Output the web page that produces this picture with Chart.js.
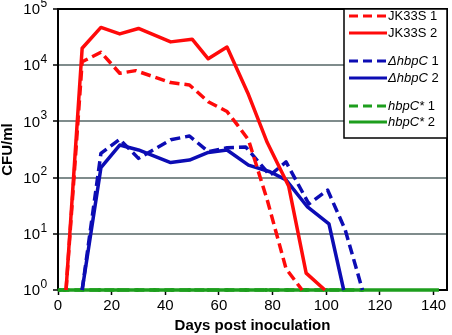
<!DOCTYPE html>
<html>
<head>
<meta charset="utf-8">
<script src="https://cdn.jsdelivr.net/npm/chart.js@4.4.1/dist/chart.umd.min.js"></script>
<style>html,body{margin:0;padding:0;background:#fff}</style>
</head>
<body>
<canvas id="c" width="452" height="335"></canvas>
<script>
// tick labels
const xTicks=[0,20,40,60,80,100,120,140];
const yTicks=[1,10,100,1000,10000,100000];

// series (days post inoculation, CFU/ml)
const jk1Days=[3,9,16,23,29,42,49,56,63,67,71,78,85,91];
const jk1=[1,11500,17000,7200,8000,4900,4450,2240,1500,850,470,40,2.4,1];
const jk2Days=[3,9,16,23,30,42,50,56,63,71,78,86,92.5,99.5];
const jk2=[1,20000,47000,36000,45000,26000,29000,13000,21000,3000,420,70,2,1];
const dh1Days=[9,16,23,30,42,49,56,63,70,79,85,93.5,100.5,107,113.5];
const dh1=[1,270,480,220,470,550,290,340,350,110,190,34,60,12,1];
const dh2Days=[9,16,23,30,42,49,56,63,71,79,85,93,101,106.5];
const dh2=[1,150,380,310,185,205,280,310,167,127,91,30,15,1];
const hb1Days=[0.5,2.5,9,15.5,22.5,29.5,36,42.5,49,56,63,70,77.5,85.5,92.5,100,106.5,113.5];
const hb1=[1,1,1,1,1,1,1,1,1,1,1,1,1,1,1,1,1,1];
const hb2Days=[0.5,142];
const hb2=[1,1];

const labels=['JK33S 1','JK33S 2','ΔhbpC 1','ΔhbpC 2','hbpC* 1','hbpC* 2'];

const RED='#ff0a0a',BLUE='#0c0cb4',GREEN='#1d9e1d',GRID='#7f8c8c';
const FONT='"Liberation Sans", Arial, sans-serif';
const DASH=[10,5];

function pts(d,v){return d.map((x,i)=>({x:x,y:v[i]}));}

const sets=[
  {label:labels[0],data:pts(jk1Days,jk1),borderColor:RED,borderDash:DASH},
  {label:labels[1],data:pts(jk2Days,jk2),borderColor:RED},
  {label:labels[2],data:pts(dh1Days,dh1),borderColor:BLUE,borderDash:DASH},
  {label:labels[3],data:pts(dh2Days,dh2),borderColor:BLUE},
  {label:labels[4],data:pts(hb1Days,hb1),borderColor:GREEN,borderDash:DASH,pointRadius:2,pointBackgroundColor:GREEN,pointBorderWidth:0},
  {label:labels[5],data:pts(hb2Days,hb2),borderColor:GREEN}
].map(s=>Object.assign({borderWidth:3.5,pointRadius:0,fill:false,tension:0,clip:false,borderJoinStyle:'round'},s));

// top + right frame of the plot
const frame={id:'frame',beforeDatasetsDraw(ch){
  const a=ch.chartArea,c=ch.ctx;
  c.save();c.strokeStyle='#000';c.lineWidth=2;
  c.beginPath();c.moveTo(a.left,a.top);c.lineTo(a.right,a.top);c.lineTo(a.right,a.bottom);c.stroke();
  c.restore();
}};

// 10^n labels with raised exponent
const yLabels={id:'yLabels',afterDraw(ch){
  const s=ch.scales.y,c=ch.ctx;
  c.save();c.fillStyle='#000';c.textBaseline='middle';
  yTicks.forEach(v=>{
    const y=s.getPixelForValue(v);
    c.font='15px '+FONT;c.textAlign='right';c.fillText('10',40,y+1);
    c.font='12px '+FONT;c.textAlign='left';c.fillText(String(Math.round(Math.log10(v))),40.5,y-5.5);
  });
  c.restore();
}};

// legend box inside the plot
const legendBox={id:'legendBox',afterDatasetsDraw(ch){
  const c=ch.ctx,a=ch.chartArea;
  const x0=344,y0=a.top,x1=a.right,y1=138;
  const rows=[16,33,61,78,106,122];
  c.save();
  c.fillStyle='#fff';c.fillRect(x0,y0,x1-x0,y1-y0);
  c.strokeStyle='#000';c.lineWidth=1.5;c.strokeRect(x0,y0,x1-x0,y1-y0);
  ch.data.datasets.forEach((d,i)=>{
    const y=rows[i];
    c.strokeStyle=d.borderColor;c.lineWidth=3;c.setLineDash(d.borderDash?[9,5]:[]);
    c.beginPath();c.moveTo(349,y);c.lineTo(387,y);c.stroke();
    c.setLineDash([]);
    const k=d.label.lastIndexOf(' ');
    const name=d.label.slice(0,k),num=d.label.slice(k);
    c.fillStyle='#000';c.textBaseline='middle';c.textAlign='left';
    c.font=(i<2?'':'italic ')+'13px '+FONT;
    c.fillText(name,388,y);
    const w=c.measureText(name).width;
    c.font='13px '+FONT;
    c.fillText(num,388+w,y);
  });
  c.restore();
}};

new Chart(document.getElementById('c'),{
  type:'line',
  data:{datasets:sets},
  options:{
    responsive:false,animation:false,
    layout:{padding:{top:9,right:5,left:0,bottom:0}},
    plugins:{legend:{display:false},tooltip:{enabled:false}},
    scales:{
      x:{type:'linear',min:0,max:145,
        afterBuildTicks:s=>{s.ticks=xTicks.map(v=>({value:v}));},
        afterFit:s=>{s.height=45;},
        grid:{drawOnChartArea:false,tickLength:5,tickColor:'#000',tickWidth:1.5},
        border:{color:'#000',width:2},
        ticks:{font:{family:FONT,size:15},color:'#000',padding:2,maxRotation:0},
        title:{display:true,text:'Days post inoculation',font:{family:FONT,size:15,weight:'bold'},color:'#000',padding:0}},
      y:{type:'logarithmic',min:1,max:100000,
        afterBuildTicks:s=>{s.ticks=yTicks.map(v=>({value:v}));},
        afterFit:s=>{s.width=58;},
        grid:{color:c=>(c.tick&&c.tick.value>1&&c.tick.value<100000)?GRID:'rgba(0,0,0,0)',lineWidth:2,tickLength:5,tickColor:'#000',tickWidth:1.5},
        border:{color:'#000',width:2},
        ticks:{display:false},
        title:{display:true,text:'CFU/ml',font:{family:FONT,size:15,weight:'bold',lineHeight:1},color:'#000',padding:0}}
    }
  },
  plugins:[frame,yLabels,legendBox]
});
</script>
</body>
</html>
